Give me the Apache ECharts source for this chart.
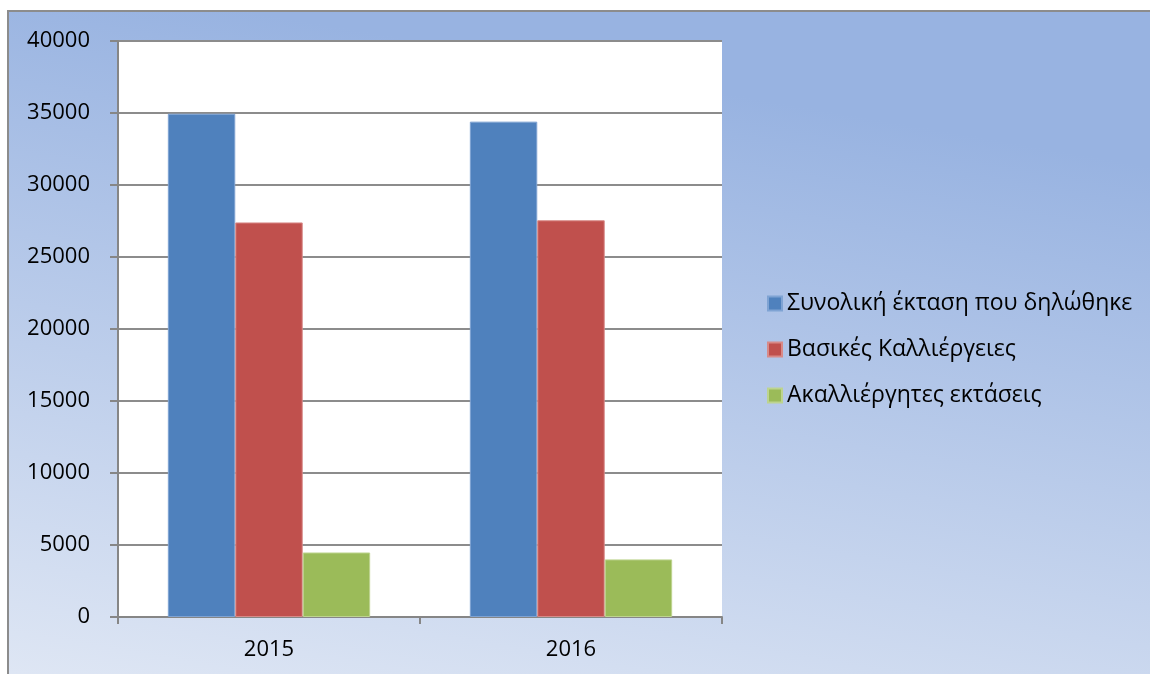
<!DOCTYPE html>
<html>
<head>
<meta charset="UTF-8">
<title>Εκτάσεις 2015-2016</title>
<script src="https://cdn.jsdelivr.net/npm/echarts@6/dist/echarts.min.js"></script>
<style>
  html, body { margin: 0; padding: 0; background: #fff; }
  #main { width: 1150px; height: 674px; }
</style>
</head>
<body>
<div id="main"></div>
<script>
var years = ['2015', '2016'];
var seriesNames = ['Συνολική έκταση που δηλώθηκε', 'Βασικές Καλλιέργειες', 'Ακαλλιέργητες εκτάσεις'];
var totalArea = [34950, 34400];
var mainCrops = [27400, 27550];
var uncultivated = [4480, 4000];
var colors = ['#4F81BD', '#C0504D', '#9BBB59'];

var chart = echarts.init(document.getElementById('main'));
var font = 'Open Sans, Liberation Sans, sans-serif';

var option = {
    animation: false,
    graphic: [{
        type: 'rect',
        z: -10,
        shape: { x: 8, y: 11, width: 1170, height: 680 },
        style: {
            fill: new echarts.graphic.LinearGradient(0.1, 1, 0.2, 0, [
                { offset: 0, color: '#DEE6F4' },
                { offset: 1, color: '#98B3E1' }
            ]),
            stroke: '#8C8C8C',
            lineWidth: 2
        }
    }],
    grid: {
        left: 118, top: 41, right: 428, bottom: 57,
        show: true, backgroundColor: '#fff', borderWidth: 0
    },
    legend: {
        orient: 'vertical',
        left: 762, top: 287,
        itemWidth: 14, itemHeight: 14, itemGap: 23,
        icon: 'rect',
        textStyle: { fontFamily: font, fontSize: 23, color: '#000' },
        data: seriesNames
    },
    xAxis: {
        type: 'category',
        data: years,
        axisLine: { lineStyle: { color: '#868686', width: 2 } },
        axisTick: { show: true, length: 7, lineStyle: { color: '#868686', width: 2 } },
        axisLabel: { fontFamily: font, fontSize: 22, color: '#000', margin: 22 }
    },
    yAxis: {
        type: 'value',
        min: 0, max: 40000, interval: 5000,
        axisLine: { show: true, lineStyle: { color: '#868686', width: 2 } },
        axisTick: { show: true, length: 8, lineStyle: { color: '#868686', width: 2 } },
        splitLine: { lineStyle: { color: '#8C8C8C', width: 2 } },
        axisLabel: { fontFamily: font, fontSize: 22, color: '#000', margin: 28,
            formatter: function (v) { return String(v); } }
    },
    series: [
        { name: seriesNames[0], type: 'bar', data: totalArea, barGap: '0%', barCategoryGap: '33%',
          itemStyle: { color: colors[0], borderColor: '#7FA3D3', borderWidth: 1 } },
        { name: seriesNames[1], type: 'bar', data: mainCrops,
          itemStyle: { color: colors[1], borderColor: '#D88A88', borderWidth: 1 } },
        { name: seriesNames[2], type: 'bar', data: uncultivated,
          itemStyle: { color: colors[2], borderColor: '#BDD48F', borderWidth: 1 } }
    ]
};
chart.setOption(option);
</script>
</body>
</html>
